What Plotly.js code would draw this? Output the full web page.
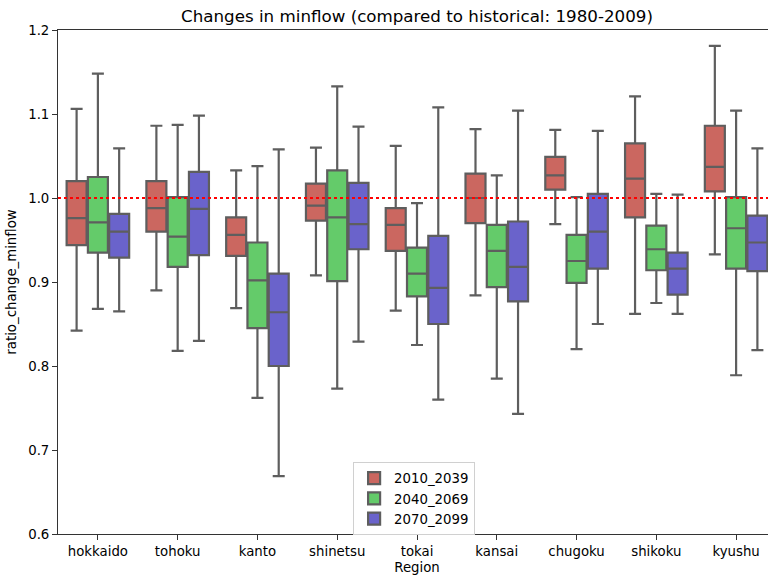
<!DOCTYPE html>
<html>
<head>
<meta charset="utf-8">
<script src="https://cdn.plot.ly/plotly-3.0.1.min.js"></script>
<style>
html, body { margin: 0; padding: 0; overflow: hidden; background: #fff; width: 768px; height: 576px; }
#chart { width: 800px; height: 576px; }
</style>
</head>
<body>
<div id="chart"></div>
<script>
const regions = ['hokkaido','tohoku','kanto','shinetsu','tokai','kansai','chugoku','shikoku','kyushu'];
const seriesNames = ['2010_2039', '2040_2069', '2070_2099'];
const seriesColors = ['#cb6760', '#64cb6a', '#6a63cb'];

// 2010_2039
const p1Upper  = [1.106, 1.086, 1.033, 1.060, 1.062, 1.082, 1.081, 1.121, 1.181];
const p1Q3     = [1.020, 1.020, 0.977, 1.017, 0.988, 1.029, 1.049, 1.065, 1.086];
const p1Median = [0.976, 0.988, 0.956, 0.991, 0.968, 1.000, 1.027, 1.023, 1.037];
const p1Q1     = [0.944, 0.960, 0.931, 0.973, 0.937, 0.970, 1.010, 0.977, 1.008];
const p1Lower  = [0.842, 0.890, 0.869, 0.908, 0.866, 0.884, 0.969, 0.862, 0.933];

// 2040_2069
const p2Upper  = [1.148, 1.087, 1.038, 1.133, 0.994, 1.027, 1.001, 1.005, 1.104];
const p2Q3     = [1.025, 1.001, 0.947, 1.033, 0.941, 0.968, 0.956, 0.967, 1.001];
const p2Median = [0.971, 0.954, 0.902, 0.977, 0.910, 0.937, 0.925, 0.939, 0.964];
const p2Q1     = [0.935, 0.918, 0.845, 0.901, 0.883, 0.894, 0.899, 0.914, 0.916];
const p2Lower  = [0.868, 0.818, 0.762, 0.773, 0.825, 0.785, 0.820, 0.875, 0.789];

// 2070_2099
const p3Upper  = [1.059, 1.098, 1.058, 1.085, 1.108, 1.104, 1.080, 1.004, 1.059];
const p3Q3     = [0.981, 1.031, 0.910, 1.018, 0.955, 0.972, 1.005, 0.935, 0.979];
const p3Median = [0.960, 0.987, 0.864, 0.969, 0.893, 0.918, 0.960, 0.916, 0.947];
const p3Q1     = [0.929, 0.932, 0.800, 0.939, 0.850, 0.877, 0.916, 0.885, 0.913];
const p3Lower  = [0.865, 0.830, 0.669, 0.829, 0.760, 0.743, 0.850, 0.862, 0.819];

const referenceValue = 1.0;
const yTicks = [0.6, 0.7, 0.8, 0.9, 1.0, 1.1, 1.2];

const stats = [
  [p1Lower, p1Q1, p1Median, p1Q3, p1Upper],
  [p2Lower, p2Q1, p2Median, p2Q3, p2Upper],
  [p3Lower, p3Q1, p3Median, p3Q3, p3Upper]
];

const lineGray = '#5e5e5e';
const font = 'DejaVu Sans, sans-serif';

const traces = stats.map((s, i) => ({
  type: 'box',
  name: seriesNames[i],
  x: regions,
  lowerfence: s[0],
  q1: s[1],
  median: s[2],
  q3: s[3],
  upperfence: s[4],
  boxpoints: false,
  fillcolor: seriesColors[i],
  line: { color: lineGray, width: 2.2 },
  whiskerwidth: 0.6,
  hoverinfo: 'skip'
}));

const layout = {
  width: 800,
  height: 576,
  margin: { l: 58, r: 24, t: 30, b: 42 },
  paper_bgcolor: '#fff',
  plot_bgcolor: '#fff',
  font: { family: font, size: 13.3, color: '#000' },
  title: {
    text: 'Changes in minflow (compared to historical: 1980-2009)',
    font: { family: font, size: 16.7, color: '#000' },
    xref: 'paper', x: 0.5, xanchor: 'center',
    yref: 'container', y: 1 - 16/576, yanchor: 'middle'
  },
  boxmode: 'group',
  boxgap: 0.2,
  boxgroupgap: 0.06,
  showlegend: true,
  legend: {
    x: 0.411, y: 0.143, xanchor: 'left', yanchor: 'top',
    bgcolor: 'rgba(255,255,255,0.8)',
    bordercolor: '#d0d0d0', borderwidth: 1,
    font: { family: font, size: 13.3, color: '#000' },
    tracegroupgap: 2
  },
  xaxis: {
    type: 'category',
    categoryorder: 'array',
    categoryarray: regions,
    range: [-0.5, regions.length - 0.5],
    showline: true, mirror: true, linecolor: '#333', linewidth: 1,
    ticks: 'outside', ticklen: 5, tickcolor: '#333', tickwidth: 1,
    showgrid: false, zeroline: false,
    tickfont: { family: font, size: 13.3, color: '#000' },
    title: { text: 'Region', font: { family: font, size: 13.3, color: '#000' }, standoff: 4 }
  },
  yaxis: {
    range: [0.6, 1.2],
    tickvals: yTicks,
    ticktext: yTicks.map(v => v.toFixed(1)),
    showline: true, mirror: true, linecolor: '#333', linewidth: 1,
    ticks: 'outside', ticklen: 5, tickcolor: '#333', tickwidth: 1,
    showgrid: false, zeroline: false,
    tickfont: { family: font, size: 13.3, color: '#000' },
    title: { text: 'ratio_change_minflow', font: { family: font, size: 13.3, color: '#000' }, standoff: 8 }
  },
  shapes: [{
    type: 'line', xref: 'paper', x0: 0, x1: 1, yref: 'y', y0: referenceValue, y1: referenceValue,
    line: { color: 'red', width: 2, dash: 'dot' },
    layer: 'above'
  }]
};

Plotly.newPlot('chart', traces, layout, { displayModeBar: false, staticPlot: true });
</script>
</body>
</html>
